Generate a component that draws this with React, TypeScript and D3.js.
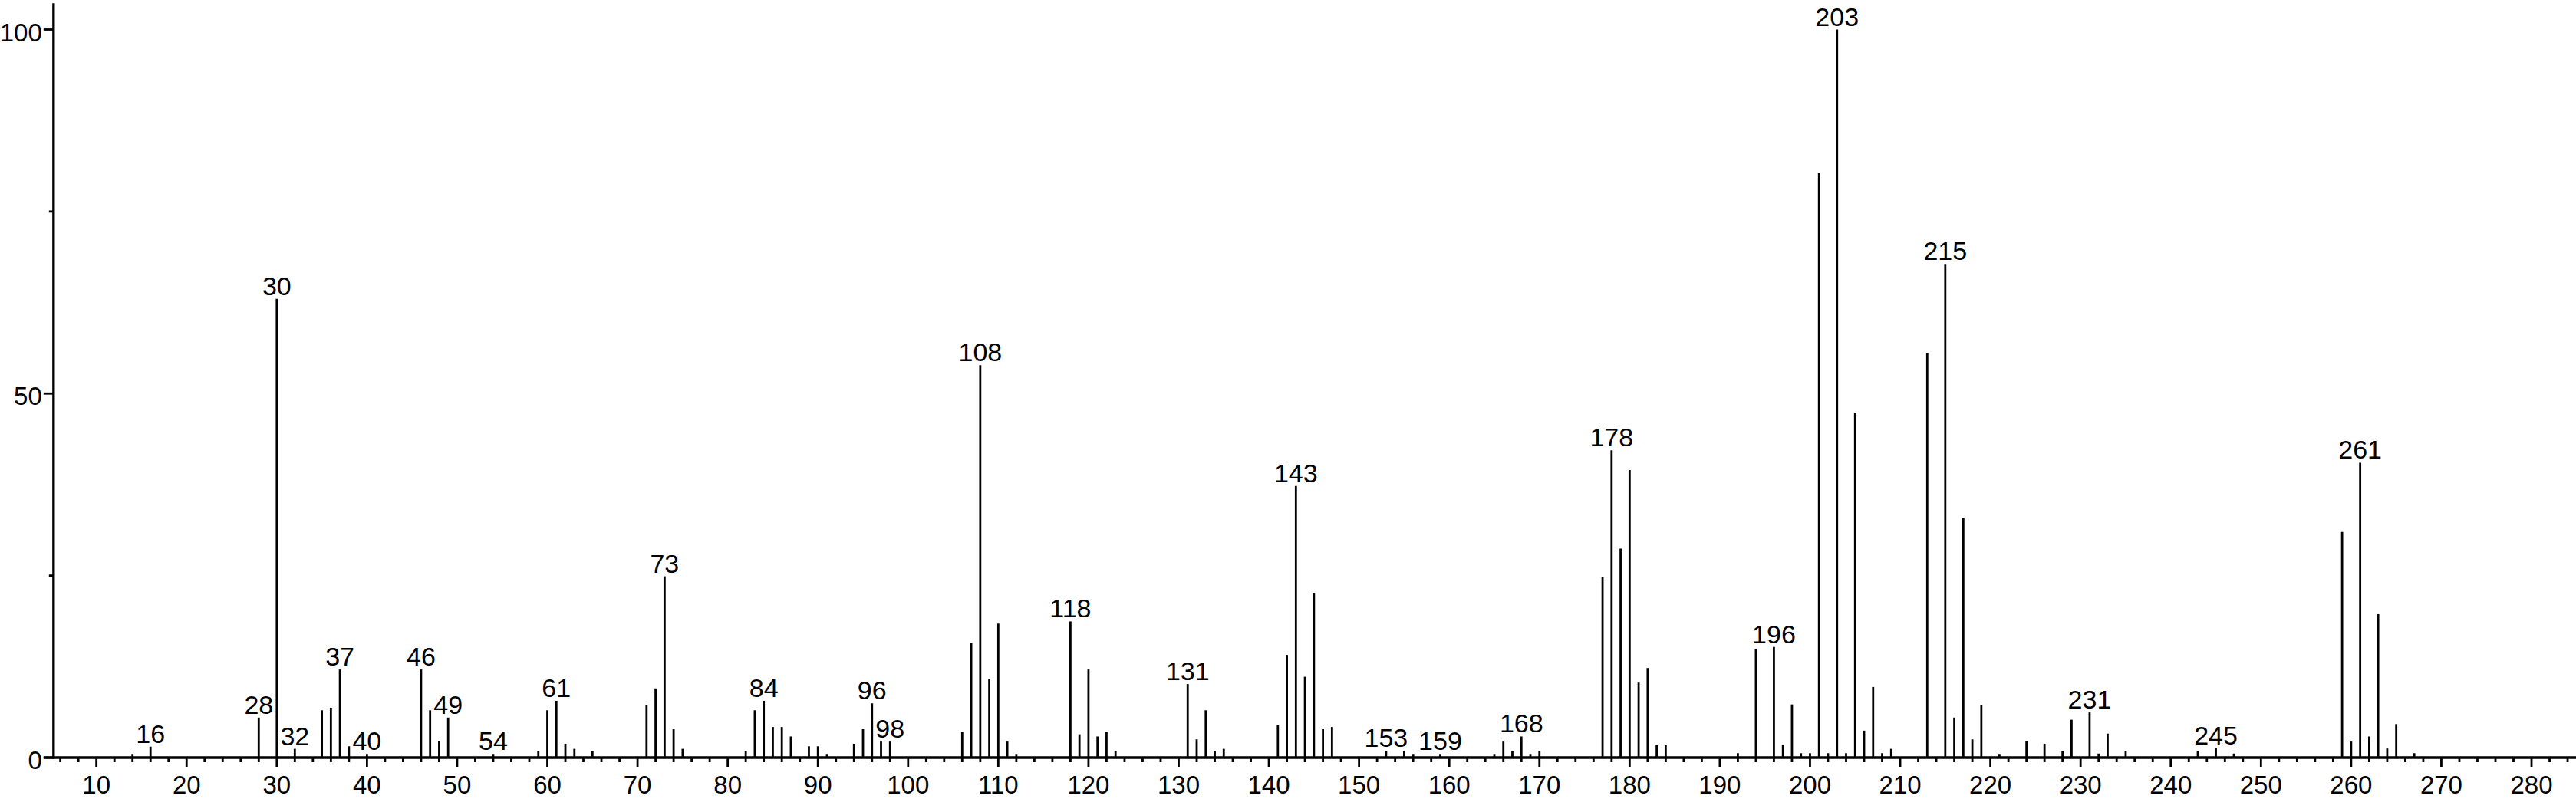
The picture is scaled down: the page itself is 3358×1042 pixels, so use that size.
import React from "react";
import * as d3 from "d3";

const mzValues = [
  14, 16, 28, 30, 32, 35, 36, 37, 38, 40, 46, 47, 48, 49, 54, 59, 60, 61, 62, 63, 65,
  71, 72, 73, 74, 75, 82, 83, 84, 85, 86, 87, 89, 90, 91, 94, 95, 96, 97, 98,
  106, 107, 108, 109, 110, 111, 112, 118, 119, 120, 121, 122, 123, 131, 132, 133, 134, 135,
  141, 142, 143, 144, 145, 146, 147, 153, 155, 156, 159, 165, 166, 167, 168, 169, 170,
  177, 178, 179, 180, 181, 182, 183, 184, 192, 194, 196, 197, 198, 199, 200,
  201, 202, 203, 204, 205, 206, 207, 208, 209, 213, 215, 216, 217, 218, 219,
  221, 224, 226, 228, 229, 231, 232, 233, 235, 243, 245, 247,
  259, 260, 261, 262, 263, 264, 265, 267,
];

const intensities = [
  0.5, 1.5, 5.5, 63, 1.2, 6.5, 6.85, 12.1, 1.55, 0.5, 12.1, 6.5, 2.25, 5.5, 0.5, 0.9, 6.5, 7.8, 1.9, 1.2, 0.9,
  7.2, 9.5, 24.9, 3.9, 1.2, 0.9, 6.5, 7.8, 4.2, 4.2, 2.9, 1.55, 1.55, 0.5, 1.9, 3.9, 7.45, 2.2, 2.2,
  3.5, 15.8, 53.9, 10.8, 18.4, 2.2, 0.5, 18.7, 3.2, 12.1, 2.9, 3.5, 0.9, 10.1, 2.5, 6.5, 0.9, 1.2,
  4.5, 14.1, 37.3, 11.1, 22.6, 3.9, 4.2, 0.9, 0.9, 0.5, 0.5, 0.5, 2.2, 0.9, 2.9, 0.5, 0.9,
  24.8, 42.2, 28.7, 39.5, 10.3, 12.3, 1.7, 1.7, 0.6, 14.9, 15.2, 1.7, 7.3, 0.6, 0.6,
  80.3, 0.6, 100, 0.6, 47.4, 3.7, 9.7, 0.6, 1.2, 55.6, 67.8, 5.5, 32.9, 2.5, 7.2,
  0.5, 2.25, 1.9, 0.9, 5.2, 6.2, 0.55, 3.3, 0.9, 0.9, 1.26, 0.55,
  31.0, 2.2, 40.5, 2.9, 19.7, 1.25, 4.6, 0.6,
];

const labeledPeaks = [
  16, 28, 30, 32, 37, 40, 46, 49, 54, 61, 73, 84, 96, 98, 108, 118, 131, 143,
  153, 159, 168, 178, 196, 203, 215, 231, 245, 261,
];

const xMajorTicks = d3.range(10, 281, 10);
const xMinorTicks = d3.range(6, 285, 2).filter((v) => v % 10 !== 0);
const yMajorTicks = [0, 50, 100];
const yMinorTicks = [25, 75];

const W = 3358;
const H = 1042;
const FONT = "'Liberation Sans', Arial, Helvetica, sans-serif";

export default function App() {
  const x = d3.scaleLinear().domain([0, 285]).range([8.1, 3358.8]);
  const y = d3.scaleLinear().domain([0, 100]).range([988, 38.5]);
  const axisX = x(5.25);
  const base = y(0);
  const top = y(103.6);

  const peaks = mzValues.map((m, i) => ({ m, v: intensities[i] }));

  return (
    <div style={{ position: "absolute", left: 0, top: 0 }}>
      <svg width={W} height={H} style={{ display: "block", background: "#fff" }} fontFamily={FONT}>
        {peaks.map((p) => (
          <line
            key={"b" + p.m}
            x1={x(p.m)}
            x2={x(p.m)}
            y1={base}
            y2={y(p.v)}
            stroke="#000"
            strokeWidth={2.8}
          />
        ))}
        {peaks
          .filter((p) => labeledPeaks.includes(p.m))
          .map((p) => (
            <text
              key={"l" + p.m}
              x={x(p.m)}
              y={y(p.v) - 5}
              textAnchor="middle"
              fontSize={34}
              fill="#000"
            >
              {p.m}
            </text>
          ))}
        <line x1={axisX} x2={axisX} y1={top} y2={base + 1.5} stroke="#000" strokeWidth={3.3} />
        {yMajorTicks.map((t) => (
          <g key={"ym" + t}>
            <line x1={axisX - 13} x2={axisX} y1={y(t)} y2={y(t)} stroke="#000" strokeWidth={2.8} />
            <text x={axisX - 15} y={y(t) + 15} textAnchor="end" fontSize={33} fill="#000">
              {t}
            </text>
          </g>
        ))}
        {yMinorTicks.map((t) => (
          <line key={"yn" + t} x1={axisX - 6} x2={axisX} y1={y(t)} y2={y(t)} stroke="#000" strokeWidth={2.8} />
        ))}
        <line x1={axisX - 13} x2={W} y1={base} y2={base} stroke="#000" strokeWidth={3.3} />
        {xMajorTicks.map((t) => (
          <g key={"xm" + t}>
            <line x1={x(t)} x2={x(t)} y1={base} y2={base + 12} stroke="#000" strokeWidth={2.8} />
            <text x={x(t)} y={base + 47} textAnchor="middle" fontSize={33} fill="#000">
              {t}
            </text>
          </g>
        ))}
        {xMinorTicks.map((t) => (
          <line key={"xn" + t} x1={x(t)} x2={x(t)} y1={base} y2={base + 6} stroke="#000" strokeWidth={2.8} />
        ))}
      </svg>
    </div>
  );
}
